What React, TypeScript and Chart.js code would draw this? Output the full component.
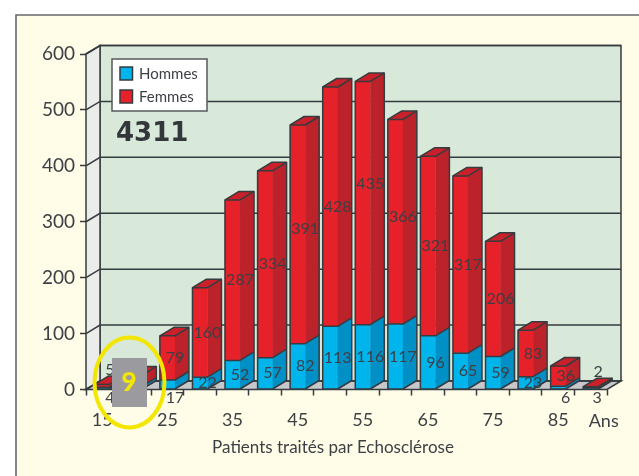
import React, { useEffect, useRef } from "react";
import { Chart, registerables } from "chart.js";

Chart.register(...registerables);

const categories = ["15", "20", "25", "30", "35", "40", "45", "50", "55", "60", "65", "70", "75", "80", "85", "Ans"];
const hommes = [4, 6, 17, 22, 52, 57, 82, 113, 116, 117, 96, 65, 59, 23, 6, 3];
const femmes = [5, 20, 79, 160, 287, 334, 391, 428, 435, 366, 321, 317, 206, 83, 36, 2];
const hiddenLabelIndex = 1;
const totalLabel = "4311";
const calloutLabel = "9";
const axisTitle = "Patients traités par Echosclérose";

const FONT = "Lato, 'Open Sans', sans-serif";
const DX = 14;
const DY = 8.5;
const INK = "#363b3f";
const TEXT = "#3c3f44";

const poly = (ctx: CanvasRenderingContext2D, pts: number[][], fill?: string, stroke?: string, lw = 1.5) => {
  ctx.beginPath();
  pts.forEach(([x, y], i) => (i ? ctx.lineTo(x, y) : ctx.moveTo(x, y)));
  ctx.closePath();
  if (fill) { ctx.fillStyle = fill; ctx.fill(); }
  if (stroke) { ctx.strokeStyle = stroke; ctx.lineWidth = lw; ctx.stroke(); }
};

const scenePlugin = {
  id: "scene",
  beforeDraw(chart: any) {
    const { ctx, chartArea: a, scales } = chart;
    ctx.save();
    ctx.fillStyle = "#ffffff";
    ctx.fillRect(0, 0, chart.width, chart.height);
    ctx.fillStyle = "#fffde8";
    ctx.fillRect(16, 15, chart.width, chart.height);
    ctx.strokeStyle = "#666a6c";
    ctx.lineWidth = 1.6;
    ctx.beginPath();
    ctx.moveTo(16, chart.height);
    ctx.lineTo(16, 15);
    ctx.lineTo(chart.width, 15);
    ctx.stroke();

    poly(ctx, [[a.left + DX, a.top - DY], [a.right + DX, a.top - DY], [a.right + DX, a.bottom - DY], [a.left + DX, a.bottom - DY]], "#d8e9d9", INK);
    poly(ctx, [[a.left, a.top], [a.left + DX, a.top - DY], [a.left + DX, a.bottom - DY], [a.left, a.bottom]], "#ebedeb", INK);
    poly(ctx, [[a.left, a.bottom], [a.left + DX, a.bottom - DY], [a.right + DX, a.bottom - DY], [a.right, a.bottom]], "#c6c8cb", INK);

    ctx.strokeStyle = INK;
    ctx.lineWidth = 1.5;
    scales.y.ticks.forEach((t: any) => {
      const y = scales.y.getPixelForValue(t.value);
      ctx.beginPath();
      ctx.moveTo(a.left, y);
      ctx.lineTo(a.left + DX, y - DY);
      ctx.lineTo(a.right + DX, y - DY);
      ctx.stroke();
    });
    ctx.restore();
  },
  afterDatasetsDraw(chart: any) {
    const { ctx } = chart;
    ctx.save();
    const sideColors = ["#0090c6", "#bb2229"];
    const men = chart.getDatasetMeta(0).data;
    const women = chart.getDatasetMeta(1).data;
    men.forEach((mBar: any, i: number) => {
      const m = mBar.getProps(["x", "y", "base", "width"], true);
      const w = women[i].getProps(["x", "y", "base", "width"], true);
      const r = m.x + m.width / 2;
      const l = m.x - m.width / 2;
      const base = m.base;
      poly(ctx, [[r, m.y], [r + DX, m.y - DY], [r + DX, base - DY], [r, base]], sideColors[0]);
      poly(ctx, [[r, w.y], [r + DX, w.y - DY], [r + DX, w.base - DY], [r, w.base]], sideColors[1]);
      poly(ctx, [[l, w.y], [l + DX, w.y - DY], [r + DX, w.y - DY], [r, w.y]], "#c9202a");
      ctx.strokeStyle = INK;
      ctx.lineWidth = 1.5;
      ctx.lineJoin = "round";
      ctx.beginPath();
      ctx.moveTo(l, m.y);
      ctx.lineTo(r, m.y);
      ctx.lineTo(r + DX, m.y - DY);
      ctx.moveTo(l, w.y);
      ctx.lineTo(r, w.y);
      ctx.lineTo(r + DX, w.y - DY);
      ctx.stroke();
      poly(ctx, [[l, base], [l, w.y], [l + DX, w.y - DY], [r + DX, w.y - DY], [r + DX, base - DY], [r, base]], undefined, INK);
    });

    ctx.fillStyle = TEXT;
    ctx.font = `16px ${FONT}`;
    ctx.textAlign = "center";
    ctx.textBaseline = "middle";
    const bottom = chart.chartArea.bottom;
    [0, 1].forEach((d) => {
      const values = d === 0 ? hommes : femmes;
      chart.getDatasetMeta(d).data.forEach((bar: any, i: number) => {
        if (i === hiddenLabelIndex) return;
        const p = bar.getProps(["x", "y", "base", "width"], true);
        let x = p.x + p.width / 2;
        let y = (p.y + p.base) / 2;
        if (d === 0 && values[i] <= 17) { y = bottom + 8; x += i === 15 ? -1 : 0; }
        if (d === 1 && values[i] <= 5) y = p.y - 15;
        if (d === 1 && i === 8) y -= 19;
        if (d === 1 && (i === 6 || i === 9)) y -= 5;
        ctx.fillText(String(values[i]), x, y);
      });
    });
    ctx.restore();
  },
  afterDraw(chart: any) {
    const { ctx, scales, data } = chart;
    ctx.save();
    ctx.fillStyle = TEXT;
    ctx.font = `18px ${FONT}`;
    ctx.textAlign = "center";
    ctx.textBaseline = "middle";
    ctx.fillText(categories[categories.length - 1], scales.x.getPixelForValue(15) + 13, 421);
    ctx.font = `17px ${FONT}`;
    ctx.fillText(axisTitle, 333, 448);

    poly(ctx, [[112, 59], [207, 59], [207, 111], [112, 111]], "#ffffff", "#555a5e");
    ctx.textAlign = "left";
    data.datasets.forEach((ds: any, i: number) => {
      const y = 73.5 + i * 23;
      poly(ctx, [[120, y - 6.5], [132.5, y - 6.5], [132.5, y + 6.5], [120, y + 6.5]], ds.backgroundColor, INK);
      ctx.fillStyle = TEXT;
      ctx.font = `15px ${FONT}`;
      ctx.fillText(ds.label, 139, y + 1);
    });

    ctx.font = "bold 26px 'DejaVu Sans', sans-serif";
    ctx.fillStyle = "#33363a";
    ctx.fillText(totalLabel, 116, 134);

    ctx.fillStyle = "#9b9a9e";
    ctx.fillRect(112, 358, 35, 49);
    ctx.strokeStyle = "#f3e600";
    ctx.lineWidth = 4;
    ctx.beginPath();
    ctx.ellipse(129.5, 382.5, 35, 45, 0, 0, Math.PI * 2);
    ctx.stroke();
    ctx.fillStyle = "#f3e600";
    ctx.font = `900 26px ${FONT}`;
    ctx.textAlign = "center";
    ctx.fillText(calloutLabel, 129, 383);
    ctx.restore();
  },
};

export default function App() {
  const ref = useRef<HTMLCanvasElement>(null);
  useEffect(() => {
    const chart = new Chart(ref.current!, {
      type: "bar",
      data: {
        labels: categories,
        datasets: [
          { label: "Hommes", data: hommes, backgroundColor: "#00b4ec", borderWidth: 0, barThickness: 15 },
          { label: "Femmes", data: femmes, backgroundColor: "#e6212a", borderWidth: 0, barThickness: 15 },
        ],
      },
      plugins: [scenePlugin],
      options: {
        responsive: false,
        animation: false,
        layout: { padding: { left: 0, top: 54, right: 32, bottom: 0 } },
        plugins: { legend: { display: false }, title: { display: false }, tooltip: { enabled: false } },
        scales: {
          x: {
            stacked: true,
            afterFit: (s: any) => { s.height = 86.5; },
            border: { display: false },
            grid: { offset: true, drawOnChartArea: false, drawTicks: true, tickLength: 6, tickColor: INK, tickWidth: 1.5 },
            ticks: {
              autoSkip: false,
              maxRotation: 0,
              padding: 14,
              color: TEXT,
              font: { family: FONT, size: 18 },
              callback: (_v: any, i: number) => (i % 2 === 0 && i < categories.length - 1 ? categories[i] : ""),
            },
          },
          y: {
            stacked: true,
            min: 0,
            max: 600,
            afterFit: (s: any) => { s.width = 86; },
            border: { display: false },
            grid: { drawOnChartArea: false, tickLength: 6, tickColor: INK, tickWidth: 1.5 },
            ticks: { stepSize: 100, padding: 5, color: TEXT, font: { family: FONT, size: 19 } },
          },
        },
      },
    } as any);
    return () => chart.destroy();
  }, []);
  return <canvas ref={ref} width={639} height={476} style={{ position: "fixed", left: 0, top: 0, display: "block" }} />;
}
